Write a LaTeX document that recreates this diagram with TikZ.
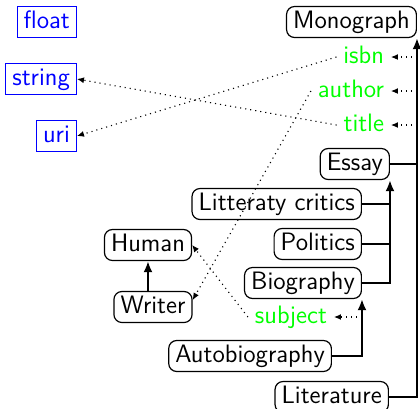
\documentclass[tikz,border=0pt]{standalone}
\usetikzlibrary{arrows.meta}
\begin{document}
\begin{tikzpicture}[x=0.5pt,y=-0.5pt,
  font=\sffamily\fontsize{12.6}{15}\selectfont,
  every node/.style={inner xsep=3.3pt, inner ysep=1.9pt, text height=9pt, text depth=2.7pt},
  cls/.style={draw, rounded corners=4pt, line width=0.6pt},
  dtype/.style={draw=blue, text=blue, line width=0.5pt},
  prop/.style={text=green},
  isa/.style={line width=1.2pt, -{Latex[length=5.5pt,width=4.5pt]}},
  branch/.style={line width=1.2pt},
  rel/.style={dotted, line width=0.55pt, -{Latex[length=3.5pt,width=3pt]}},
]
\useasboundingbox (0,0) rectangle (420,409);

% datatypes
\node[dtype, anchor=east] (float)  at (77,22)  {float};
\node[dtype, anchor=east] (string) at (77,79)  {string};
\node[dtype, anchor=east] (uri)    at (77,136) {uri};

% classes and properties
\node[cls, anchor=east]  (Monograph)  at (417,22)  {Monograph};
\node[prop, anchor=east] (isbn)       at (391,57)  {isbn};
\node[prop, anchor=east] (author)     at (391,91)  {author};
\node[prop, anchor=east] (title)      at (391,125) {title};
\node[cls, anchor=east]  (Essay)      at (390,164) {Essay};
\node[cls, anchor=east]  (Critics)    at (362,204) {Litteraty critics};
\node[cls, anchor=east]  (Politics)   at (362,244) {Politics};
\node[cls, anchor=east]  (Biography)  at (362,283) {Biography};
\node[prop, anchor=east] (subject)    at (334,317) {subject};
\node[cls, anchor=east]  (Autobio)    at (332,356) {Autobiography};
\node[cls, anchor=east]  (Literature) at (389,397) {Literature};
\node[cls] (Human)  at (148,245) {Human};
\node[cls] (Writer) at (153,307) {Writer};

% subclass trees
\draw[isa] (Literature.east) -| (Monograph.south east);
\draw[branch] (Essay.east) -- (Essay.east -| Monograph.south east);
\draw[isa] (Biography.east) -| (Essay.south east);
\draw[branch] (Critics.east) -- (Critics.east -| Essay.south east);
\draw[branch] (Politics.east) -- (Politics.east -| Essay.south east);
\draw[isa] (Autobio.east) -| (Biography.south east);
\draw[isa] (Writer.north -| Human.south) -- (Human.south);

% properties attached to classes
\draw[rel] (Monograph.south east |- isbn.east) -- (isbn.east);
\draw[rel] (Monograph.south east |- author.east) -- (author.east);
\draw[rel] (Monograph.south east |- title.east) -- (title.east);
\draw[rel] (Biography.south east |- subject.east) -- (subject.east);

% property ranges
\draw[rel] (isbn.west) -- (uri.east);
\draw[rel] (title.west) -- (string.east);
\draw[rel] (author.west) -- (Writer.10);
\draw[rel] (subject.west) -- (Human.east);
\end{tikzpicture}
\end{document}
